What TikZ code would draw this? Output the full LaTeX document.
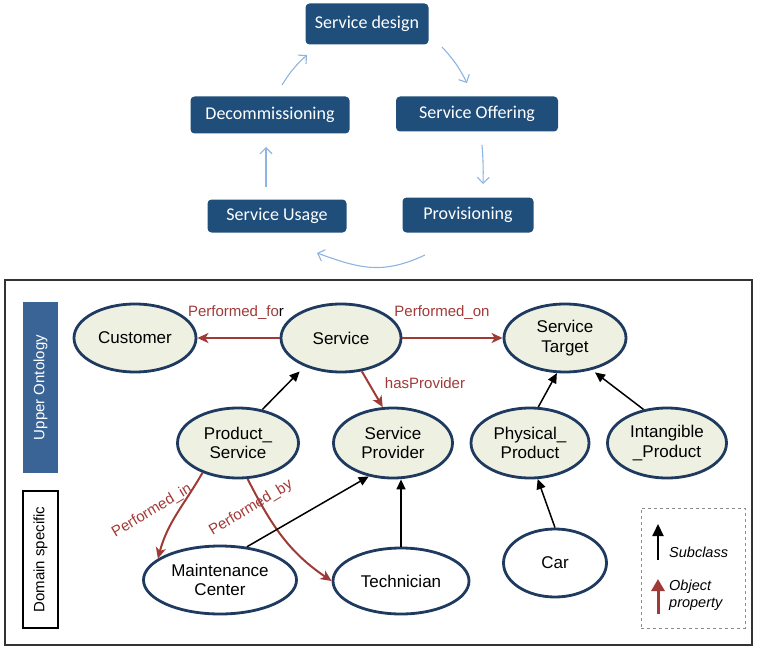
\documentclass[tikz,border=0pt]{standalone}
\usepackage{fontspec}
\setmainfont{Liberation Sans}
\newfontfamily\calib{Carlito}
\usetikzlibrary{arrows.meta,shapes.geometric,calc}
\definecolor{boxblue}{HTML}{1F4E7A}
\definecolor{barblue}{HTML}{3A6496}
\definecolor{ellfill}{HTML}{EEF0E2}
\definecolor{elldraw}{HTML}{1F3A5F}
\definecolor{cyc}{HTML}{8DB4E2}
\definecolor{prop}{HTML}{A03A37}
\tikzset{
  phase/.style={draw=none,fill=boxblue,rounded corners=4pt,text=white,font=\calib\fontsize{18}{21}\selectfont,inner sep=0pt},
  cycarrow/.style={draw=cyc,line width=1.1pt,-{Straight Barb[length=6pt,width=12pt,line width=1.1pt]}},
  cls/.style={ellipse,draw=elldraw,line width=2.8pt,fill=ellfill,inner sep=0pt,align=center,font=\fontsize{17}{19.5}\selectfont},
  dcls/.style={cls,fill=white},
  sub/.style={draw=black,line width=1.5pt,-{Triangle[length=10pt,width=9pt]}},
  objp/.style={draw=prop,line width=2pt,-{Stealth[length=11pt,width=10pt,inset=3pt]}},
  plabel/.style={text=prop,font=\fontsize{15}{18}\selectfont,inner sep=0pt},
}
\begin{document}
\begin{tikzpicture}[x=1pt,y=-1pt]
\useasboundingbox (0,0) rectangle (760,650);
% lifecycle boxes
\node[phase,minimum width=123pt,minimum height=41pt] (sd) at (367,24) {Service design};
\node[phase,minimum width=159pt,minimum height=37pt] (dec) at (270,115) {Decommissioning};
\node[phase,minimum width=162pt,minimum height=35pt] (so) at (477,114) {Service Offering};
\node[phase,minimum width=139pt,minimum height=33pt] (su) at (277,216) {Service Usage};
\node[phase,minimum width=131pt,minimum height=35pt] (pv) at (468,215) {Provisioning};
\coordinate (c1a) at (442,47); \coordinate (c1b) at (467,83);
\coordinate (c2a) at (482,145); \coordinate (c2b) at (483,184);
\coordinate (c3a) at (425,255); \coordinate (c3b) at (317,253);
\coordinate (c4a) at (266,187); \coordinate (c4b) at (266,147);
\coordinate (c5a) at (282,85); \coordinate (c5b) at (307,55);
\draw[cycarrow] (c1a) to[bend left=8] (c1b);
\draw[cycarrow] (c2a) to[bend left=3] (c2b);
\draw[cycarrow] (c3a) to[out=205,in=-20,looseness=1.1] (c3b);
\draw[cycarrow] (c4a) -- (c4b);
\draw[cycarrow] (c5a) to[bend left=8] (c5b);
% frame
\node[draw=black!80,line width=1.2pt,minimum width=747pt,minimum height=365pt,inner sep=0pt] (frame) at (378.5,462.5) {};
\node[fill=barblue,minimum width=35pt,minimum height=171pt,inner sep=0pt] (uo) at (40.5,387.5) {};
\node[rotate=90,text=white,font=\fontsize{15}{18}\selectfont] (uot) at (uo.center) {Upper Ontology};
\node[draw=black,line width=1.2pt,fill=white,minimum width=35pt,minimum height=137pt,inner sep=0pt] (ds) at (40.5,559.5) {};
\node[rotate=90,font=\fontsize{15}{18}\selectfont] (dst) at (ds.center) {Domain specific};
% classes
\node[cls,minimum width=122pt,minimum height=68pt] (cust) at (135,338) {Customer};
\node[cls,minimum width=120pt,minimum height=68pt] (svc) at (341,338) {Service};
\node[cls,minimum width=122pt,minimum height=68pt] (tgt) at (565,338) {Service\\Target};
\node[cls,minimum width=121pt,minimum height=70pt] (ps) at (238,443) {Product\_\\Service};
\node[cls,minimum width=119pt,minimum height=70pt] (sp) at (393,443) {Service\\Provider};
\node[cls,minimum width=118pt,minimum height=70pt] (pp) at (530,443) {Physical\_\\Product};
\node[cls,minimum width=119pt,minimum height=70pt] (ip) at (667,443) {Intangible\\\_Product};
\node[dcls,minimum width=153pt,minimum height=68pt] (mc) at (220,580) {Maintenance\\Center};
\node[dcls,minimum width=136pt,minimum height=66pt] (tech) at (401,581) {Technician};
\node[dcls,minimum width=103pt,minimum height=68pt] (car) at (555,563) {Car};
% object properties
\draw[objp] (svc.west) -- (cust.east);
\draw[objp] (svc.east) -- (tgt.west);
\draw[objp] (svc.-58) -- (sp.106);
\draw[objp] (ps.220) to[out=240,in=75] (mc.161);
\draw[objp] (ps.-75) to[out=-63,in=146] (tech.west);
\node[plabel] (lfor) at (236,313) {Performed\_fo\textcolor{black}{r}};
\node[plabel] (lon) at (442,313) {Performed\_on};
\node[plabel] (lhp) at (425,383) {hasProvider};
\node[plabel,rotate=31] (lin) at (152,511) {Performed\_in};
\node[plabel,rotate=31] (lby) at (251,508) {Performed\_by};
% subclass
\draw[sub,shorten >=7pt] (ps.54) -- (svc.218);
\draw[sub] (pp.77) -- (tgt.257);
\draw[sub,shorten >=4pt] (ip.125) -- (tgt.-50);
\draw[sub] (mc.51) -- (sp.234);
\draw[sub] (tech.north) -- (tech.north |- sp.south);
\draw[sub] (car.north) -- (pp.-78);
% legend
\node[draw=black!45,dashed,line width=1pt,minimum width=104pt,minimum height=120pt,inner sep=0pt] (leg) at (693,568) {};
\coordinate (l1a) at (658,560); \coordinate (l1b) at (658,524);
\coordinate (l2a) at (658,614); \coordinate (l2b) at (658,579);
\draw[draw=black,line width=2pt,-{Triangle[length=12pt,width=11pt]}] (l1a) -- (l1b);
\draw[draw=prop,line width=3pt,-{Triangle[length=12pt,width=13pt]}] (l2a) -- (l2b);
\node[anchor=west,font=\itshape\fontsize{14.5}{17}\selectfont,inner sep=0pt] (lsub) at (669,552) {Subclass};
\node[anchor=west,align=left,font=\itshape\fontsize{14.5}{16.5}\selectfont,inner sep=0pt] (lobj) at (669,595) {Object\\property};
\end{tikzpicture}
\end{document}
